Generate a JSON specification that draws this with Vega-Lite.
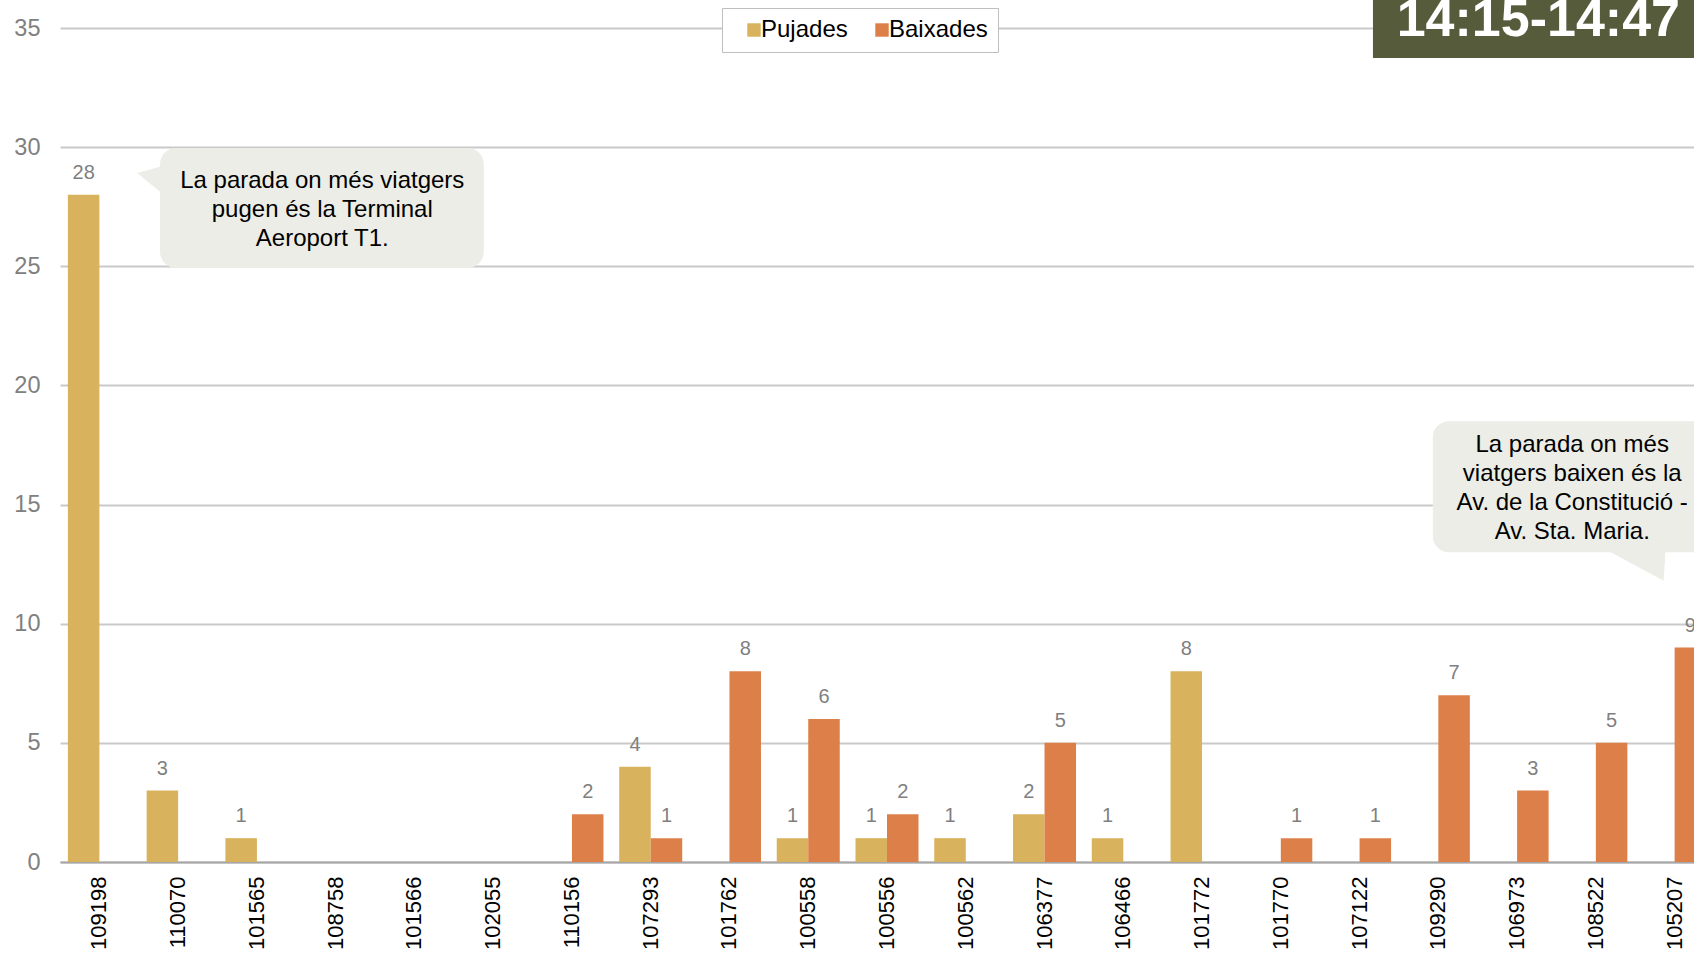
{
  "$schema": "https://vega.github.io/schema/vega-lite/v6.json",
  "width": 1634,
  "height": 834,
  "autosize": {"type": "none"},
  "padding": {"left": 60, "top": 28, "right": 0, "bottom": 97},
  "background": "white",
  "config": {
    "view": {"stroke": null},
    "font": "Liberation Sans",
    "axisY": {
      "title": null, "grid": true, "gridColor": "#c9c9c9", "gridWidth": 2, "domain": false, "ticks": false,
      "labelColor": "#808080", "labelFontSize": 23.5, "labelPadding": 20, "labelFont": "Liberation Sans", "tickCount": 7
    },
    "legend": {
      "orient": "none",
      "legendX": 662,
      "legendY": -20,
      "direction": "horizontal",
      "fillColor": "white",
      "strokeColor": "#bfbfbf",
      "padding": 10,
      "labelFontSize": 24,
      "labelColor": "#000000",
      "labelFont": "Liberation Sans",
      "symbolType": "square",
      "symbolSize": 180,
      "symbolStrokeWidth": 0,
      "symbolOffset": 10,
      "labelOffset": -5,
      "columnPadding": 12
    }
  },
  "datasets": {
    "stops": [
      {"stop": "109198", "series": "Pujades", "value": 28}, {"stop": "109198", "series": "Baixades", "value": 0},
      {"stop": "110070", "series": "Pujades", "value": 3}, {"stop": "110070", "series": "Baixades", "value": 0},
      {"stop": "101565", "series": "Pujades", "value": 1}, {"stop": "101565", "series": "Baixades", "value": 0},
      {"stop": "108758", "series": "Pujades", "value": 0}, {"stop": "108758", "series": "Baixades", "value": 0},
      {"stop": "101566", "series": "Pujades", "value": 0}, {"stop": "101566", "series": "Baixades", "value": 0},
      {"stop": "102055", "series": "Pujades", "value": 0}, {"stop": "102055", "series": "Baixades", "value": 0},
      {"stop": "110156", "series": "Pujades", "value": 0}, {"stop": "110156", "series": "Baixades", "value": 2},
      {"stop": "107293", "series": "Pujades", "value": 4}, {"stop": "107293", "series": "Baixades", "value": 1},
      {"stop": "101762", "series": "Pujades", "value": 0}, {"stop": "101762", "series": "Baixades", "value": 8},
      {"stop": "100558", "series": "Pujades", "value": 1}, {"stop": "100558", "series": "Baixades", "value": 6},
      {"stop": "100556", "series": "Pujades", "value": 1}, {"stop": "100556", "series": "Baixades", "value": 2},
      {"stop": "100562", "series": "Pujades", "value": 1}, {"stop": "100562", "series": "Baixades", "value": 0},
      {"stop": "106377", "series": "Pujades", "value": 2}, {"stop": "106377", "series": "Baixades", "value": 5},
      {"stop": "106466", "series": "Pujades", "value": 1}, {"stop": "106466", "series": "Baixades", "value": 0},
      {"stop": "101772", "series": "Pujades", "value": 8}, {"stop": "101772", "series": "Baixades", "value": 0},
      {"stop": "101770", "series": "Pujades", "value": 0}, {"stop": "101770", "series": "Baixades", "value": 1},
      {"stop": "107122", "series": "Pujades", "value": 0}, {"stop": "107122", "series": "Baixades", "value": 1},
      {"stop": "109290", "series": "Pujades", "value": 0}, {"stop": "109290", "series": "Baixades", "value": 7},
      {"stop": "106973", "series": "Pujades", "value": 0}, {"stop": "106973", "series": "Baixades", "value": 3},
      {"stop": "108522", "series": "Pujades", "value": 0}, {"stop": "108522", "series": "Baixades", "value": 5},
      {"stop": "105207", "series": "Pujades", "value": 0}, {"stop": "105207", "series": "Baixades", "value": 9}
    ],
    "boxes": [
      {"id": "a", "x1": 1.27, "x2": 5.38, "y1": 24.93, "y2": 29.96},
      {"id": "b", "x1": 17.43, "x2": 22.5, "y1": 13.0, "y2": 18.5}
    ],
    "pointers": [
      {"id": "a", "px": 0.98, "top": 28.91, "bot": 28.91},
      {"id": "a", "px": 1.4, "top": 29.29, "bot": 27.78},
      {"id": "b", "px": 19.52, "top": 13.3, "bot": 13.3},
      {"id": "b", "px": 20.36, "top": 13.3, "bot": 11.8},
      {"id": "b", "px": 20.39, "top": 13.3, "bot": 13.3}
    ],
    "notes": [
      {"cx": 3.33, "cy": 28.6, "label": ["La parada on més viatgers", "pugen és la Terminal", "Aeroport T1."]},
      {"cx": 19.2, "cy": 17.5, "label": ["La parada on més", "viatgers baixen és la", "Av. de la Constitució -", "Av. Sta. Maria."]}
    ],
    "badge": [
      {"x1": 16.67, "x2": 22.5, "y1": 33.74, "y2": 37.5, "tx": 18.77, "ty": 34.66, "label": "14:15-14:47"}
    ]
  },
  "layer": [
    {
      "data": {"name": "stops"},
      "encoding": {
        "x": {
          "field": "stop", "type": "nominal", "sort": null,
          "scale": {"range": [0, 1654], "paddingInner": 0.2, "paddingOuter": 0.1},
          "axis": {
            "title": null, "labelAngle": 270, "labelFontSize": 22, "labelColor": "#000000",
            "labelPadding": 14, "ticks": false, "domain": true, "domainColor": "#a6a6a6",
            "domainWidth": 2, "grid": false, "labelFont": "Liberation Sans"
          }
        },
        "xOffset": {"field": "series", "type": "nominal", "sort": ["Pujades", "Baixades"], "scale": {"paddingInner": 0, "paddingOuter": 0}},
        "y": {
          "field": "value", "type": "quantitative",
          "scale": {"domain": [0, 35], "nice": false, "zero": true},
          "axis": {"title": null}
        }
      },
      "layer": [
        {
          "mark": {"type": "bar"},
          "encoding": {
            "color": {
              "field": "series", "type": "nominal",
              "scale": {"domain": ["Pujades", "Baixades"], "range": ["#D8B25C", "#DD7F48"]},
              "legend": {"title": null}
            }
          }
        },
        {
          "transform": [{"filter": "datum.value > 0"}],
          "mark": {"type": "text", "baseline": "bottom", "dy": -12, "fontSize": 20, "color": "#7f7f7f", "font": "Liberation Sans"},
          "encoding": {"text": {"field": "value", "type": "quantitative"}}
        }
      ]
    },
    {
      "data": {"name": "boxes"},
      "mark": {"type": "rect", "fill": "#ECEDE6", "cornerRadius": 16},
      "encoding": {
        "x": {"field": "x1", "type": "quantitative", "scale": {"domain": [0, 21], "range": [0, 1654], "nice": false, "zero": false}, "axis": null},
        "x2": {"field": "x2"},
        "y": {"field": "y1", "type": "quantitative", "scale": {"domain": [0, 35], "nice": false}, "axis": {"title": null}},
        "y2": {"field": "y2"}
      }
    },
    {
      "data": {"name": "pointers"},
      "mark": {"type": "area", "fill": "#ECEDE6", "interpolate": "linear"},
      "encoding": {
        "x": {"field": "px", "type": "quantitative", "scale": {"domain": [0, 21], "range": [0, 1654], "nice": false, "zero": false}, "axis": null},
        "y": {"field": "top", "type": "quantitative", "scale": {"domain": [0, 35], "nice": false}, "axis": {"title": null}},
        "y2": {"field": "bot"},
        "detail": {"field": "id", "type": "nominal"}
      }
    },
    {
      "data": {"name": "notes"},
      "mark": {"type": "text", "fontSize": 24, "lineHeight": 29, "color": "#000000", "align": "center", "baseline": "middle", "font": "Liberation Sans"},
      "encoding": {
        "x": {"field": "cx", "type": "quantitative", "scale": {"domain": [0, 21], "range": [0, 1654], "nice": false, "zero": false}, "axis": null},
        "y": {"field": "cy", "type": "quantitative", "scale": {"domain": [0, 35], "nice": false}, "axis": {"title": null}},
        "text": {"field": "label"}
      }
    },
    {
      "data": {"name": "badge"},
      "layer": [
        {
          "mark": {"type": "rect", "fill": "#565B3C"},
          "encoding": {
            "x": {"field": "x1", "type": "quantitative", "scale": {"domain": [0, 21], "range": [0, 1654], "nice": false, "zero": false}, "axis": null},
            "x2": {"field": "x2"},
            "y": {"field": "y1", "type": "quantitative", "scale": {"domain": [0, 35], "nice": false}, "axis": {"title": null}},
            "y2": {"field": "y2"}
          }
        },
        {
          "mark": {"type": "text", "fontSize": 52, "fontWeight": "bold", "color": "#ffffff", "align": "center", "baseline": "alphabetic", "font": "Liberation Sans"},
          "encoding": {
            "x": {"field": "tx", "type": "quantitative", "scale": {"domain": [0, 21], "range": [0, 1654], "nice": false, "zero": false}, "axis": null},
            "y": {"field": "ty", "type": "quantitative", "scale": {"domain": [0, 35], "nice": false}, "axis": {"title": null}},
            "text": {"field": "label"}
          }
        }
      ]
    }
  ],
  "resolve": {"scale": {"x": "independent"}}
}
